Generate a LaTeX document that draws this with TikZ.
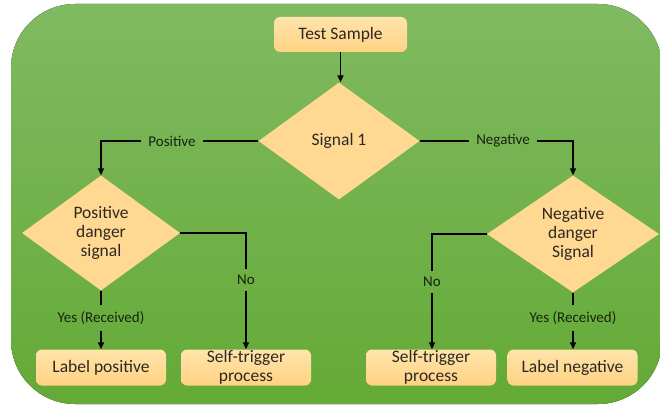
\documentclass[tikz,border=0pt]{standalone}
\usepackage{fontspec}
\setmainfont{Carlito}
\usetikzlibrary{shapes.geometric,arrows.meta}

\definecolor{bgtop}{RGB}{128,186,98}
\definecolor{bgbot}{RGB}{100,170,54}
\definecolor{boxtop}{RGB}{255,228,170}
\definecolor{boxbot}{RGB}{255,210,132}
\definecolor{dia}{RGB}{255,217,145}
\definecolor{ink}{RGB}{46,40,34}
\definecolor{lbl}{RGB}{24,34,16}

\tikzset{
  stepbox/.style={rectangle, rounded corners=6pt, top color=boxtop, bottom color=boxbot,
    minimum width=130pt, minimum height=36pt, inner sep=0pt, align=center,
    text=ink, font=\fontsize{17.5}{19}\selectfont},
  decision/.style={diamond, fill=dia, inner sep=0pt, aspect=1.4, align=center,
    text=ink, font=\fontsize{17.5}{19}\selectfont},
  edgelabel/.style={inner sep=0pt, text=lbl, font=\fontsize{15}{17}\selectfont},
  hgap/.style={inner xsep=7pt},
  vgap/.style={inner ysep=6pt},
  link/.style={draw=black, line width=1.6pt},
  arrow/.style={link, -{Triangle[length=7pt,width=6pt]}},
}

\begin{document}
\begin{tikzpicture}[x=1pt, y=-1pt]
  \useasboundingbox (0,0) rectangle (660,406);

  % green panel behind the flowchart
  \fill[rounded corners=64pt, top color=bgtop, bottom color=bgbot] (11,4) rectangle (662,404);

  % boxes and decisions
  \node[stepbox, minimum width=133pt, minimum height=35pt] (ts) at (340.5,34.5) {Test Sample};
  \node[decision, minimum width=161pt, minimum height=117pt] (sig) at (339,141) {Signal 1};
  \node[decision, minimum width=158pt, minimum height=115pt] (pd) at (101,233) {Positive\\danger\\signal};
  \node[decision, minimum width=172pt, minimum height=117pt] (nd) at (573,234) {Negative\\danger\\Signal};

  \node[stepbox] (lp)  at (101,367.5) {Label positive};
  \node[stepbox] (stl) at (246,367.5) {Self-trigger\\process};
  \node[stepbox] (str) at (431,367.5) {Self-trigger\\process};
  \node[stepbox] (ln)  at (572.5,367.5) {Label negative};

  % edge labels
  \node[edgelabel, hgap] (lpos) at (172,141) {Positive};
  \node[edgelabel, hgap] (lneg) at (503,141) {Negative};
  \node[edgelabel, vgap] (lnol) at (246,280) {No};
  \node[edgelabel, vgap] (lyl)  at (101,318) {Yes (Received)};
  \node[edgelabel, vgap] (lnor) at (432,282) {No};
  \node[edgelabel, vgap] (lyr)  at (573,318) {Yes (Received)};

  % connectors
  \draw[arrow] (ts.south) -- (ts.south |- sig.north);

  \draw[link] (sig.west) -- (lpos.east);
  \draw[arrow] (lpos.west) -| (pd.north);

  \draw[link] (sig.east) -- (lneg.west);
  \draw[arrow] (lneg.east) -| (nd.north);

  \draw[link] (pd.east) -| (lnol.north);
  \draw[arrow] (lnol.south) -- (lnol.south |- stl.north);

  \draw[link] (pd.south) -- (lyl.north -| pd.south);
  \draw[arrow] (lyl.south -| pd.south) -- (pd.south |- lp.north);

  \draw[link] (nd.west) -| (lnor.north);
  \draw[arrow] (lnor.south) -- (lnor.south |- str.north);

  \draw[link] (nd.south) -- (lyr.north -| nd.south);
  \draw[arrow] (lyr.south -| nd.south) -- (nd.south |- ln.north);
\end{tikzpicture}
\end{document}
